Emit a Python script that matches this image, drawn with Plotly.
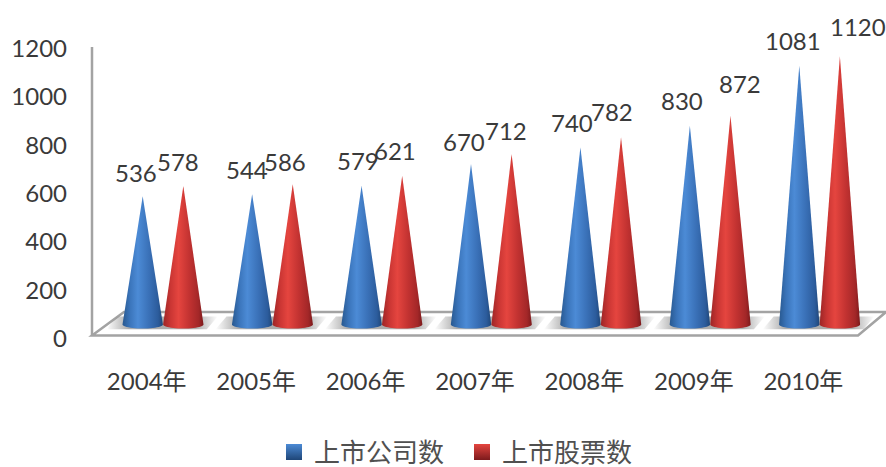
import math
import plotly.graph_objects as go

# Listed companies and listed stocks on the exchange, by year
years = ["2004年", "2005年", "2006年", "2007年", "2008年", "2009年", "2010年"]
companies = [536, 544, 579, 670, 740, 830, 1081]
stocks = [578, 586, 621, 712, 782, 872, 1120]
y_ticks = [0, 200, 400, 600, 800, 1000, 1200]

W, H = 886, 467
FONT = "Lato, 'Noto Sans CJK SC', sans-serif"
TEXT = "#3a3a3a"
WALL = "#a3a3a3"

# Cone geometry on the depth-shifted category axis
PX_PER_CAT = 109.43
HALF_W = 20.2 / PX_PER_CAT
OFFSET = 20.3 / PX_PER_CAT
PX_PER_VAL = 0.2395
BASE_DROP = 4.0 / PX_PER_VAL

# Pixel nudges for the value labels, relative to each cone tip
company_label_shift = [(-7, 24), (-5, 25), (-4, 25), (-7, 23), (-8, 25), (-8, 25), (-6, 25)]
stock_label_shift = [(-5, 25), (-8, 23), (-7, 25), (-6, 23), (-9, 26), (10, 32), (18, 30)]

BLUE = [[0, "#28588f"], [0.18, "#3a74ba"], [0.38, "#4c8bd6"], [0.65, "#3a71b8"], [0.88, "#2c5c9c"], [1, "#1f4678"]]
RED = [[0, "#9c2526"], [0.18, "#c93533"], [0.38, "#e5453f"], [0.65, "#c23231"], [0.88, "#a32728"], [1, "#7c1a1c"]]
SHADOW = [[0, "rgba(150,150,150,0)"], [0.2, "rgba(150,150,150,0.8)"],
          [0.8, "rgba(150,150,150,0.8)"], [1, "rgba(150,150,150,0)"]]


def px_x(p):
    return p / W


def px_y(p):
    return 1 - p / H


def cone_outline(cx, value):
    """Tip plus the visible front half of the elliptical base."""
    xs, ys = [cx], [value]
    for k in range(25):
        t = math.pi * k / 24
        xs.append(cx + HALF_W * math.cos(t))
        ys.append(-BASE_DROP * math.sin(t))
    xs.append(cx)
    ys.append(value)
    return xs, ys


fig = go.Figure()

# Slanted floor shadow behind each pair of cones
for i in range(len(years)):
    sx = [i - 0.52, i + 0.40, i + 0.50, i - 0.42, i - 0.52]
    sy = [-20, -20, 34, 34, -20]
    fig.add_trace(go.Scatter(
        x=sx, y=sy, xaxis="x2", yaxis="y2", mode="none", fill="toself",
        fillgradient=dict(type="horizontal", colorscale=SHADOW, start=i - 0.52, stop=i + 0.50),
        showlegend=False, hoverinfo="skip",
    ))


def add_series(values, sign, stops, name, key_color, key_edge, shifts):
    for i, v in enumerate(values):
        cx = i + sign * OFFSET
        xs, ys = cone_outline(cx, v)
        fig.add_trace(go.Scatter(
            x=xs, y=ys, xaxis="x2", yaxis="y2", mode="none", fill="toself",
            fillgradient=dict(type="horizontal", colorscale=stops,
                              start=cx - HALF_W, stop=cx + HALF_W),
            showlegend=False, hoverinfo="skip",
        ))
        dx, dy = shifts[i]
        fig.add_annotation(
            x=cx, y=v, xref="x2", yref="y2", text=str(v), showarrow=False,
            xshift=dx, yshift=dy, font=dict(family=FONT, size=24, color=TEXT),
        )
    # Legend key
    fig.add_trace(go.Scatter(
        x=[None], y=[None], mode="markers", name=name,
        marker=dict(symbol="square", size=16, color=key_color,
                    gradient=dict(type="vertical", color=key_edge)),
    ))


add_series(companies, -1, BLUE, "上市公司数", "#4c8bd6", "#1f4678", company_label_shift)
add_series(stocks, 1, RED, "上市股票数", "#e5453f", "#7c1a1c", stock_label_shift)

shapes = [
    # Chart floor
    dict(type="path", xref="paper", yref="paper", layer="below",
         path=f"M {px_x(92)} {px_y(335.5)} L {px_x(858)} {px_y(335.5)} L {px_x(886)} {px_y(312)} L {px_x(124)} {px_y(312)} Z",
         fillcolor="#ffffff", line=dict(color=WALL, width=2.5)),
    # Left wall edge
    dict(type="line", xref="paper", yref="paper", layer="below",
         x0=px_x(92), x1=px_x(92), y0=px_y(335.5), y1=px_y(47),
         line=dict(color=WALL, width=2.5)),
]

fig.update_layout(
    width=W, height=H, autosize=False,
    margin=dict(l=0, r=0, t=0, b=0, autoexpand=False),
    paper_bgcolor="white", plot_bgcolor="rgba(0,0,0,0)",
    showlegend=True,
    legend=dict(orientation="h", x=px_x(274), y=px_y(452), xanchor="left", yanchor="middle",
                font=dict(family=FONT, size=26, color="#505050"),
                entrywidth=143, entrywidthmode="pixels", itemclick=False, bgcolor="rgba(0,0,0,0)"),
    shapes=shapes,
    xaxis=dict(domain=[px_x(92), px_x(858)], range=[-0.5, 6.5], tickmode="array",
               tickvals=list(range(len(years))), ticktext=years, showline=False, showgrid=False,
               zeroline=False, ticks="", ticklabelstandoff=26, anchor="y",
               tickfont=dict(family=FONT, size=24, color=TEXT)),
    yaxis=dict(domain=[px_y(338.5), px_y(48.5)], range=[0, 1200], tickmode="array", tickvals=y_ticks,
               showline=False, showgrid=False, zeroline=False,
               ticks="", ticklabelstandoff=24, anchor="x",
               tickfont=dict(family=FONT, size=24, color=TEXT)),
    xaxis2=dict(domain=[px_x(108.3), px_x(874.3)], range=[-0.5, 6.5], visible=False, anchor="y2"),
    yaxis2=dict(domain=[px_y(336.5), px_y(37.1)], range=[-50, 1200], visible=False, anchor="x2"),
)

fig.write_html("out.html")
